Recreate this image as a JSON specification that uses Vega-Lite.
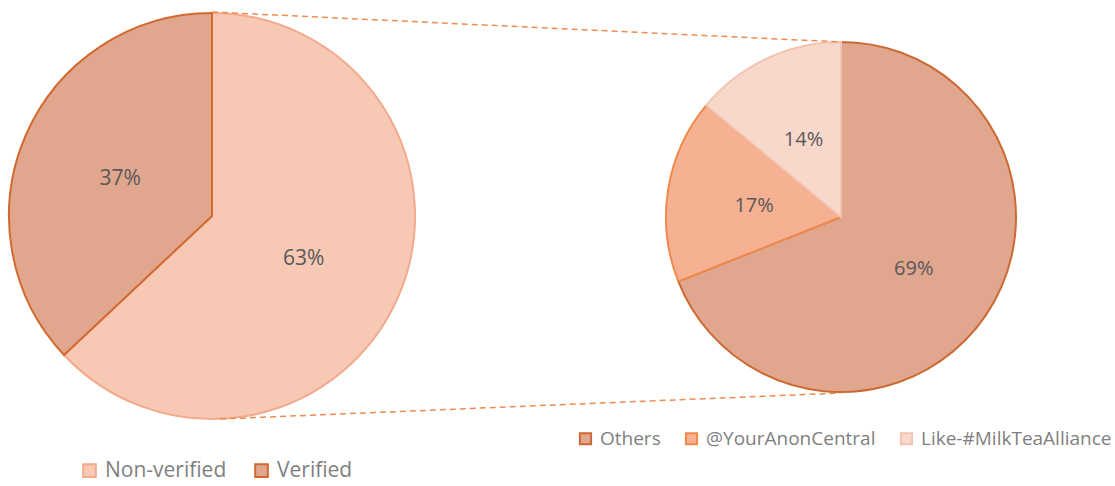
{
  "$schema": "https://vega.github.io/schema/vega-lite/v6.json",
  "width": 1115,
  "height": 486,
  "padding": 0,
  "autosize": {"type": "none"},
  "background": "white",
  "config": {
    "view": {"stroke": null},
    "legend": {
      "title": null,
      "direction": "horizontal",
      "symbolType": "square",
      "symbolStrokeWidth": 2,
      "labelFont": "Open Sans",
      "labelColor": "#7f7f7f",
      "labelLimit": 400
    }
  },
  "datasets": {
    "slices": [
      {"pie": "Verification", "category": "Non-verified", "share": 0.63, "rank": 1},
      {"pie": "Verification", "category": "Verified", "share": 0.37, "rank": 2},
      {"pie": "Source", "category": "Others", "share": 0.69, "rank": 1},
      {"pie": "Source", "category": "@YourAnonCentral", "share": 0.17, "rank": 2},
      {"pie": "Source", "category": "Like-#MilkTeaAlliance", "share": 0.14, "rank": 3}
    ],
    "connectors": [
      {"link": "top", "x": 212, "y": 12},
      {"link": "top", "x": 841, "y": 42},
      {"link": "bottom", "x": 220, "y": 419},
      {"link": "bottom", "x": 841, "y": 393}
    ]
  },
  "layer": [
    {
      "data": {"name": "slices"},
      "transform": [{"filter": "datum.pie === 'Verification'"}],
      "layer": [
        {
          "mark": {"type": "arc", "outerRadius": 203, "strokeWidth": 2},
          "encoding": {
            "x": {"datum": 212, "type": "quantitative", "scale": {"domain": [0, 1115]}, "axis": null},
            "y": {"datum": 216, "type": "quantitative", "scale": {"domain": [0, 486], "reverse": true}, "axis": null},
            "theta": {"field": "share", "type": "quantitative", "stack": true},
            "order": {"field": "rank", "type": "quantitative"},
            "fill": {
              "field": "category", "type": "nominal",
              "scale": {"domain": ["Non-verified", "Verified"], "range": ["#f7c8b4", "#e0a68e"]},
              "legend": {"orient": "none", "legendX": 79, "legendY": 460, "labelFontSize": 21, "symbolSize": 160, "columnPadding": 24, "labelOffset": 5}
            },
            "stroke": {
              "field": "category", "type": "nominal",
              "scale": {"domain": ["Non-verified", "Verified"], "range": ["#f2a98c", "#d2692f"]},
              "legend": {"orient": "none", "legendX": 79, "legendY": 460, "labelFontSize": 21, "symbolSize": 160, "columnPadding": 24, "labelOffset": 5}
            }
          }
        },
        {
          "mark": {"type": "text", "radius": 100, "dy": 3, "font": "Open Sans", "fontSize": 21, "fill": "#595959"},
          "encoding": {
            "x": {"datum": 212, "type": "quantitative", "scale": {"domain": [0, 1115]}, "axis": null},
            "y": {"datum": 216, "type": "quantitative", "scale": {"domain": [0, 486], "reverse": true}, "axis": null},
            "theta": {"field": "share", "type": "quantitative", "stack": true},
            "order": {"field": "rank", "type": "quantitative"},
            "text": {"field": "share", "type": "quantitative", "format": ".0%"}
          }
        }
      ]
    },
    {
      "data": {"name": "slices"},
      "transform": [{"filter": "datum.pie === 'Source'"}],
      "layer": [
        {
          "mark": {"type": "arc", "outerRadius": 175, "strokeWidth": 2},
          "encoding": {
            "x": {"datum": 841, "type": "quantitative", "scale": {"domain": [0, 1115]}, "axis": null},
            "y": {"datum": 217, "type": "quantitative", "scale": {"domain": [0, 486], "reverse": true}, "axis": null},
            "theta": {"field": "share", "type": "quantitative", "stack": true},
            "order": {"field": "rank", "type": "quantitative"},
            "fill": {
              "field": "category", "type": "nominal",
              "scale": {"domain": ["Others", "@YourAnonCentral", "Like-#MilkTeaAlliance"], "range": ["#e0a68e", "#f5b192", "#f9d8cc"]},
              "legend": {"orient": "none", "legendX": 576, "legendY": 429, "labelFontSize": 19, "symbolSize": 125, "columnPadding": 20, "labelOffset": 5}
            },
            "stroke": {
              "field": "category", "type": "nominal",
              "scale": {"domain": ["Others", "@YourAnonCentral", "Like-#MilkTeaAlliance"], "range": ["#cc6a33", "#ef8a4c", "#f4c4b2"]},
              "legend": {"orient": "none", "legendX": 576, "legendY": 429, "labelFontSize": 19, "symbolSize": 125, "columnPadding": 20, "labelOffset": 5}
            }
          }
        },
        {
          "mark": {"type": "text", "radius": 88, "dy": 3, "font": "Open Sans", "fontSize": 20, "fill": "#595959"},
          "encoding": {
            "x": {"datum": 841, "type": "quantitative", "scale": {"domain": [0, 1115]}, "axis": null},
            "y": {"datum": 217, "type": "quantitative", "scale": {"domain": [0, 486], "reverse": true}, "axis": null},
            "theta": {"field": "share", "type": "quantitative", "stack": true},
            "order": {"field": "rank", "type": "quantitative"},
            "text": {"field": "share", "type": "quantitative", "format": ".0%"}
          }
        }
      ]
    },
    {
      "data": {"name": "connectors"},
      "mark": {"type": "line", "stroke": "#ee8c50", "strokeWidth": 1.5, "strokeDash": [6, 4]},
      "encoding": {
        "x": {"field": "x", "type": "quantitative", "scale": {"domain": [0, 1115]}, "axis": null},
        "y": {"field": "y", "type": "quantitative", "scale": {"domain": [0, 486], "reverse": true}, "axis": null},
        "detail": {"field": "link", "type": "nominal"}
      }
    }
  ],
  "resolve": {
    "scale": {"fill": "independent", "stroke": "independent"},
    "legend": {"fill": "independent", "stroke": "independent"}
  }
}
